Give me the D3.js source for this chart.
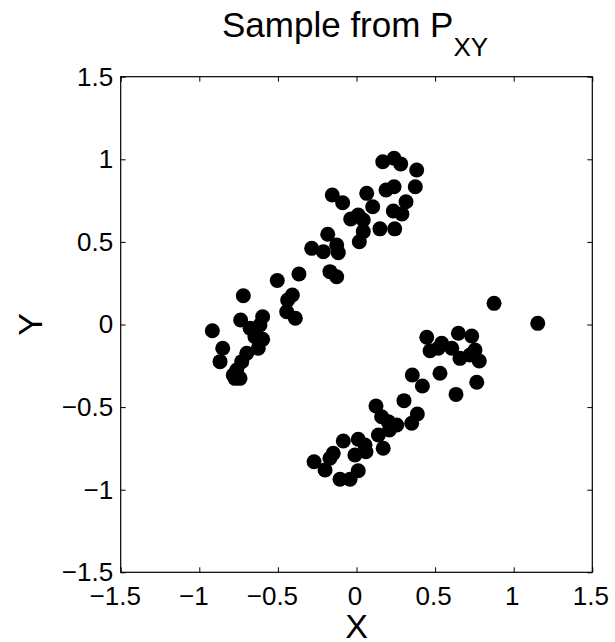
<!doctype html>
<html lang="en">
<head>
  <meta charset="utf-8">
  <title>Sample from P_XY</title>
  <script type="text/javascript" src="https://cdnjs.cloudflare.com/ajax/libs/d3/7.8.5/d3.min.js"></script>
  <style>
    body { margin: 0; background: #fff; }
    text { font-family: "Liberation Sans", Arial, Helvetica, sans-serif; fill: #000; }
  </style>
</head>
<body>
  <svg width="615" height="642" id="svg"></svg>
</body>

<script type="text/javascript">

	// sample points
	var xs = [0.167, 0.239, 0.281, 0.383, 0.374, 0.239, 0.188, 0.065, -0.154, -0.088,
		0.103, 0.315, 0.234, 0.289, 0.011, -0.037, 0.043, 0.149, 0.243, 0.043,
		0.018, -0.183, -0.285, -0.211, -0.126, -0.116, -0.169, -0.126, -0.366, -0.504,
		-0.408, -0.438, -0.444, -0.389, -0.720, -0.737, -0.597, -0.614, -0.677, -0.646,
		-0.597, -0.625, -0.917, -0.851, -0.868, -0.698, -0.730, -0.762, -0.784, -0.741,
		-0.773,
		0.875, 1.153, 0.447, 0.648, 0.733, 0.542, 0.468, 0.520, 0.606, 0.658,
		0.754, 0.722, 0.781, 0.355, 0.531, 0.419, 0.765, 0.633, 0.302, 0.124,
		0.387, 0.351, 0.160, 0.202, 0.256, 0.209, 0.139, 0.170, -0.084, 0.011,
		0.054, 0.060, -0.010, -0.148, -0.169, -0.270, -0.200, 0.011, -0.105, -0.041];

	var ys = [0.985, 1.006, 0.972, 0.935, 0.834, 0.834, 0.814, 0.794, 0.784, 0.737,
		0.713, 0.743, 0.687, 0.669, 0.663, 0.639, 0.633, 0.579, 0.579, 0.562,
		0.501, 0.546, 0.461, 0.441, 0.481, 0.435, 0.320, 0.289, 0.306, 0.266,
		0.179, 0.148, 0.077, 0.038, 0.174, 0.027, 0.047, -0.003, -0.023, -0.074,
		-0.090, -0.144, -0.038, -0.144, -0.225, -0.174, -0.225, -0.275, -0.306, -0.326,
		-0.326,
		0.128, 0.007, -0.077, -0.053, -0.070, -0.114, -0.159, -0.144, -0.144, -0.205,
		-0.154, -0.185, -0.221, -0.306, -0.295, -0.372, -0.350, -0.423, -0.461, -0.493,
		-0.542, -0.598, -0.558, -0.588, -0.608, -0.639, -0.669, -0.749, -0.705, -0.695,
		-0.729, -0.770, -0.790, -0.780, -0.810, -0.831, -0.881, -0.885, -0.937, -0.937];

	var ticks = [-1.5, -1, -0.5, 0, 0.5, 1, 1.5];
	var tickLabels = ['\u22121.5', '\u22121', '\u22120.5', '0', '0.5', '1', '1.5'];

	var svg = d3.select('#svg');

	var plotL = 120.7, plotR = 592.3, plotT = 76.7, plotB = 572.3;

	var x = d3.scaleLinear().domain([-1.5, 1.5]).range([plotL, plotR]);
	var y = d3.scaleLinear().domain([-1.5, 1.5]).range([plotB, plotT]);

	var fmt = function(d) { return tickLabels[ticks.indexOf(d)]; };

	// bottom axis with labels, inward ticks
	svg.append('g')
		.attr('transform', 'translate(0,' + plotB + ')')
		.call(d3.axisBottom(x).tickValues(ticks).tickFormat(fmt).tickSizeInner(-5).tickSizeOuter(0).tickPadding(14))
		.call(function(g) {
			g.select('.domain').remove();
			g.selectAll('text')
				.attr('font-size', 26)
				.attr('font-family', '"Liberation Sans", Arial, sans-serif')
				.attr('dx', function(d) { return d < 0 ? -6 : -2; });
		});

	// left axis
	svg.append('g')
		.attr('transform', 'translate(' + plotL + ',0)')
		.call(d3.axisLeft(y).tickValues(ticks).tickFormat(fmt).tickSizeInner(-5).tickSizeOuter(0).tickPadding(7.5))
		.call(function(g) {
			g.select('.domain').remove();
			g.selectAll('text').attr('font-size', 26).attr('font-family', '"Liberation Sans", Arial, sans-serif');
		});

	// top and right ticks only
	svg.append('g')
		.attr('transform', 'translate(0,' + plotT + ')')
		.call(d3.axisTop(x).tickValues(ticks).tickFormat('').tickSizeInner(-5).tickSizeOuter(0))
		.call(function(g) { g.select('.domain').remove(); });

	svg.append('g')
		.attr('transform', 'translate(' + plotR + ',0)')
		.call(d3.axisRight(y).tickValues(ticks).tickFormat('').tickSizeInner(-5).tickSizeOuter(0))
		.call(function(g) { g.select('.domain').remove(); });

	// box
	svg.append('rect')
		.attr('x', plotL)
		.attr('y', plotT)
		.attr('width', plotR - plotL)
		.attr('height', plotB - plotT)
		.attr('fill', 'none')
		.attr('stroke', 'black')
		.attr('stroke-width', 1.2);

	svg.selectAll('.dot')
		.data(d3.range(xs.length))
		.enter()
		.append('circle')
		.attr('class', 'dot')
		.attr('cx', function(i) { return x(xs[i]); })
		.attr('cy', function(i) { return y(ys[i]); })
		.attr('r', 7.5)
		.attr('fill', 'black');

	// title
	var title = svg.append('text')
		.attr('x', 222)
		.attr('y', 37)
		.attr('text-anchor', 'start')
		.attr('font-size', 35);
	title.append('tspan').text('Sample from P');
	title.append('tspan').attr('font-size', 26).attr('dy', 19).text('XY');

	svg.append('text')
		.attr('x', x(0))
		.attr('y', 638)
		.attr('text-anchor', 'middle')
		.attr('font-size', 34)
		.text('X');

	svg.append('text')
		.attr('transform', 'translate(42,' + y(0) + ') rotate(-90)')
		.attr('text-anchor', 'middle')
		.attr('font-size', 34)
		.text('Y');

</script>
</html>
